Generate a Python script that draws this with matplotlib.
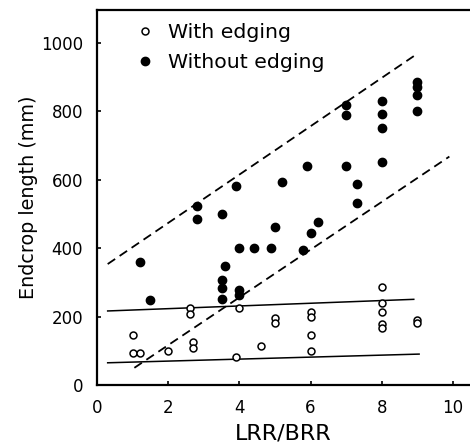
import matplotlib
matplotlib.use("Agg")
import matplotlib.pyplot as plt
import numpy as np

# Endcrop length vs. LRR/BRR
without_x = [1.2, 1.5, 2.8, 2.8, 3.5, 3.6, 3.5, 3.5, 3.5, 3.9, 4.0, 4.0, 4.0,
             4.4, 4.9, 5.0, 5.2, 5.8, 6.0, 6.2, 5.9, 7.0, 7.0, 7.0, 7.3, 7.3,
             8.0, 8.0, 8.0, 8.0, 9.0, 9.0, 9.0, 9.0]
without_y = [358, 248, 523, 485, 498, 347, 308, 284, 251, 581, 399, 277, 263,
             399, 399, 462, 594, 394, 443, 477, 640, 818, 788, 640, 586, 530,
             829, 791, 751, 650, 886, 869, 847, 800]

with_x = [1.0, 1.0, 1.2, 2.0, 2.6, 2.6, 2.7, 2.7, 3.9, 4.0, 4.6, 5.0, 5.0,
          6.0, 6.0, 6.0, 6.0, 8.0, 8.0, 8.0, 8.0, 8.0, 9.0, 9.0]
with_y = [146, 93, 93, 100, 224, 206, 125, 107, 83, 226, 115, 197, 180,
          212, 198, 146, 100, 285, 240, 214, 178, 165, 190, 180]

# Envelope (dashed) and band (solid) lines: intercept, slope, x-range
dashed_upper = (332, 70.6, 0.3, 8.9)
dashed_lower = (-23, 69.7, 1.05, 9.9)
solid_upper = (215, 3.95, 0.3, 8.9)
solid_lower = (64, 2.9, 0.3, 9.05)

x_ticks = [0, 2, 4, 6, 8, 10]
y_ticks = [0, 200, 400, 600, 800, 1000]

plt.rcParams['font.family'] = ['DejaVu Sans']

fig = plt.figure(figsize=(4.70, 4.45), dpi=100)
ax = fig.add_axes([97 / 470, 60 / 445, 1 - 97 / 470, 375 / 445])


def draw_line(spec, **kw):
    b, m, x0, x1 = spec
    xs = np.array([x0, x1])
    ax.plot(xs, b + m * xs, color='black', zorder=1, **kw)


dash = (0, (5, 3))
draw_line(dashed_upper, lw=1.3, linestyle=dash)
draw_line(dashed_lower, lw=1.3, linestyle=dash)
draw_line(solid_upper, lw=1.1)
draw_line(solid_lower, lw=1.1)

ax.plot(with_x, with_y, linestyle='none', marker='o', ms=5.0, mfc='white',
        mec='black', mew=1.1, zorder=3, label='With edging')
ax.plot(without_x, without_y, linestyle='none', marker='o', ms=6.0,
        mfc='black', mec='black', zorder=3, label='Without edging')

ax.set_xlim(0, 10.48)
ax.set_ylim(0, 1095)
ax.set_xticks(x_ticks)
ax.set_yticks(y_ticks)
ax.tick_params(direction='in', length=3, width=1.2, labelsize=12, pad=10)
for side in ['left', 'bottom', 'top']:
    ax.spines[side].set_linewidth(1.6)
ax.spines['right'].set_visible(False)

ax.set_xlabel('LRR/BRR', fontsize=16, labelpad=5)
ax.set_ylabel('Endcrop length (mm)', fontsize=13.8, labelpad=2.5)

leg = ax.legend(loc='upper left', bbox_to_anchor=(0.102, 0.964), frameon=False,
                fontsize=14.7, handlelength=1.0, handletextpad=0.6,
                borderpad=0, labelspacing=0.5, borderaxespad=0)

fig.savefig('out.png', dpi=100)
